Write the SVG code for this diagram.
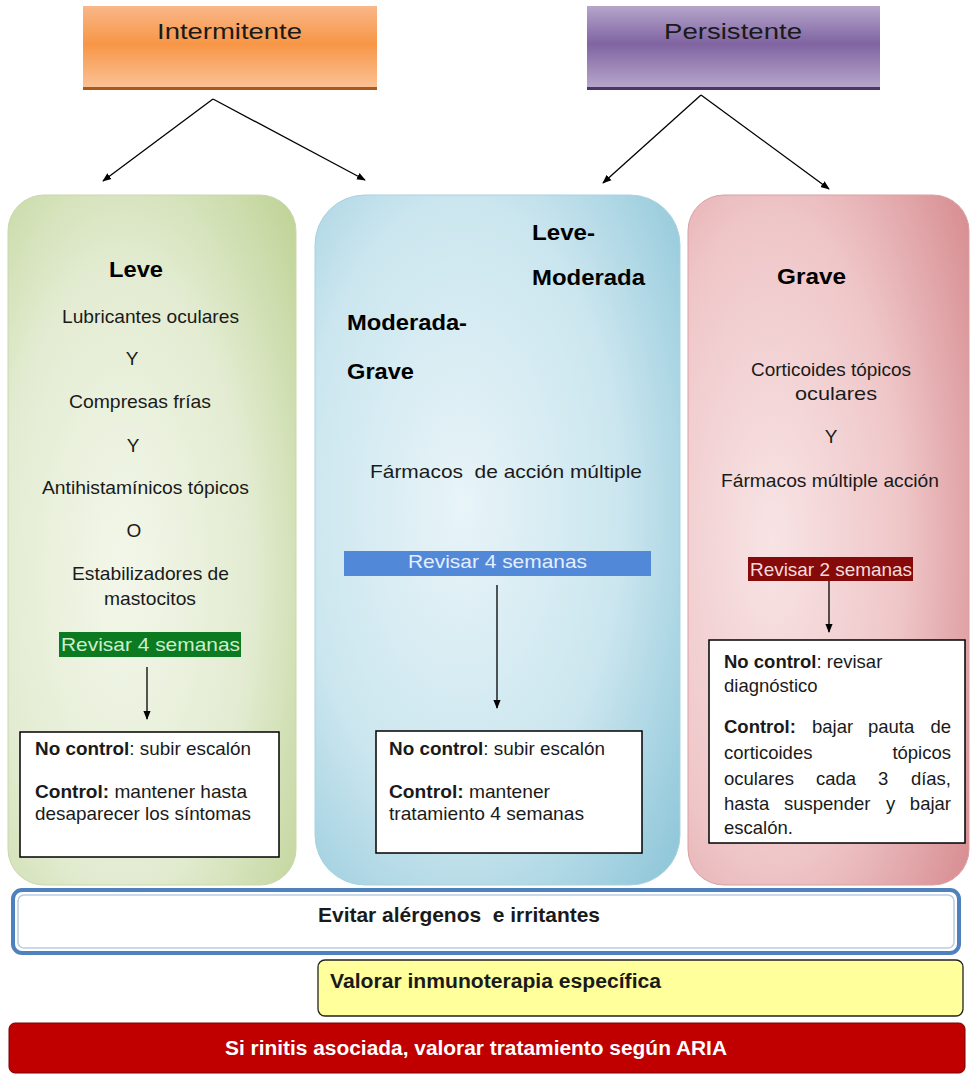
<svg xmlns="http://www.w3.org/2000/svg" width="973" height="1078" viewBox="0 0 973 1078">
<defs>
<linearGradient id="gOrange" x1="0" y1="0" x2="0" y2="1">
<stop offset="0" stop-color="#f9b789"/><stop offset="0.45" stop-color="#f79646"/><stop offset="1" stop-color="#fbc49a"/>
</linearGradient>
<linearGradient id="gPurple" x1="0" y1="0" x2="0" y2="1">
<stop offset="0" stop-color="#b5a5ca"/><stop offset="0.45" stop-color="#8064a2"/><stop offset="1" stop-color="#b9aacd"/>
</linearGradient>
<radialGradient id="gGreen" cx="0.4" cy="0.55" r="0.8">
<stop offset="0" stop-color="#f3f7ea"/><stop offset="0.55" stop-color="#e3ecd2"/><stop offset="1" stop-color="#bfd396"/>
</radialGradient>
<radialGradient id="gBlue" cx="0.4" cy="0.45" r="0.8">
<stop offset="0" stop-color="#e8f4f8"/><stop offset="0.55" stop-color="#cbe6ef"/><stop offset="1" stop-color="#8cc5d8"/>
</radialGradient>
<radialGradient id="gPink" cx="0.3" cy="0.5" r="0.85">
<stop offset="0" stop-color="#f8e4e5"/><stop offset="0.55" stop-color="#efc6c8"/><stop offset="1" stop-color="#d78d91"/>
</radialGradient>
<marker id="ah" viewBox="0 0 10 10" refX="9" refY="5" markerWidth="9" markerHeight="9" orient="auto" markerUnits="userSpaceOnUse">
<path d="M0,1 L10,5 L0,9 z" fill="#000"/>
</marker>
<style>
text{font-family:"Liberation Sans",Arial,sans-serif;fill:#1a1a1a;white-space:pre}
.t{font-size:19px}
.p{font-size:18.5px}
.ttl{font-size:22px}
.c{text-anchor:middle}
.e{text-anchor:end}
.h{font-size:22px;font-weight:bold;fill:#000}
.b{font-weight:bold}
.ln{stroke:#000;stroke-width:1.3;fill:none;marker-end:url(#ah)}
.box{fill:#fff;stroke:#000;stroke-width:1.5}
</style>
</defs>
<rect width="973" height="1078" fill="#fff"/>

<g id="intermitente">
<rect x="83" y="6" width="294" height="84" fill="url(#gOrange)"/>
<rect x="83" y="87" width="294" height="3" fill="#a95a1a"/>
<text x="157" y="39" class="ttl" textLength="145" lengthAdjust="spacingAndGlyphs">Intermitente</text>
</g>

<g id="persistente">
<rect x="587" y="6" width="293" height="84" fill="url(#gPurple)"/>
<rect x="587" y="87" width="293" height="3" fill="#4a3766"/>
<text x="664" y="39" class="ttl" textLength="138" lengthAdjust="spacingAndGlyphs">Persistente</text>
</g>

<g id="col-leve">
<rect x="8" y="195" width="288" height="690" rx="36" fill="url(#gGreen)" stroke="#c9d7ad" stroke-width="1"/>
<text x="109" y="277" class="h" textLength="54" lengthAdjust="spacingAndGlyphs">Leve</text>
<text x="62" y="323" class="t" textLength="177" lengthAdjust="spacingAndGlyphs">Lubricantes oculares</text>
<text x="132" y="365" class="t c">Y</text>
<text x="69" y="408" class="t" textLength="142" lengthAdjust="spacingAndGlyphs">Compresas frías</text>
<text x="133" y="452" class="t c">Y</text>
<text x="42" y="494" class="t" textLength="207" lengthAdjust="spacingAndGlyphs">Antihistamínicos tópicos</text>
<text x="134" y="537" class="t c">O</text>
<text x="72" y="580" class="t" textLength="157" lengthAdjust="spacingAndGlyphs">Estabilizadores de</text>
<text x="104" y="605" class="t" textLength="92" lengthAdjust="spacingAndGlyphs">mastocitos</text>
<rect x="59" y="632" width="182" height="25" fill="#0b7a20"/>
<text x="61" y="651" class="t" style="fill:#cdeecd" textLength="179" lengthAdjust="spacingAndGlyphs">Revisar 4 semanas</text>
<rect x="20" y="732" width="259" height="125" class="box"/>
<text x="35" y="755" class="t" textLength="216" lengthAdjust="spacingAndGlyphs"><tspan class="b">No control</tspan>: subir escalón</text>
<text x="35" y="798" class="t" textLength="212" lengthAdjust="spacingAndGlyphs"><tspan class="b">Control:</tspan> mantener hasta</text>
<text x="35" y="820" class="t" textLength="216" lengthAdjust="spacingAndGlyphs">desaparecer los síntomas</text>
</g>

<g id="col-moderada">
<rect x="315" y="195" width="365" height="690" rx="50" fill="url(#gBlue)" stroke="#a9d2e0" stroke-width="1"/>
<text x="532" y="240" class="h" textLength="63" lengthAdjust="spacingAndGlyphs">Leve-</text>
<text x="532" y="285" class="h" textLength="113" lengthAdjust="spacingAndGlyphs">Moderada</text>
<text x="347" y="330" class="h" textLength="120" lengthAdjust="spacingAndGlyphs">Moderada-</text>
<text x="347" y="379" class="h" textLength="67" lengthAdjust="spacingAndGlyphs">Grave</text>
<text x="370" y="478" class="t" textLength="272" lengthAdjust="spacingAndGlyphs">Fármacos  de acción múltiple</text>
<rect x="344" y="551" width="307" height="25" fill="#5188d8"/>
<text x="408" y="568" class="t" style="fill:#e6eeff" textLength="179" lengthAdjust="spacingAndGlyphs">Revisar 4 semanas</text>
<rect x="376" y="731" width="266" height="122" class="box"/>
<text x="389" y="755" class="t" textLength="216" lengthAdjust="spacingAndGlyphs"><tspan class="b">No control</tspan>: subir escalón</text>
<text x="389" y="798" class="t" textLength="161" lengthAdjust="spacingAndGlyphs"><tspan class="b">Control:</tspan> mantener</text>
<text x="389" y="820" class="t" textLength="195" lengthAdjust="spacingAndGlyphs">tratamiento 4 semanas</text>
</g>

<g id="col-grave">
<rect x="688" y="195" width="281" height="690" rx="36" fill="url(#gPink)" stroke="#d9a0a3" stroke-width="1"/>
<text x="777" y="284" class="h" textLength="69" lengthAdjust="spacingAndGlyphs">Grave</text>
<text x="751" y="376" class="t" textLength="160" lengthAdjust="spacingAndGlyphs">Corticoides tópicos</text>
<text x="795" y="400" class="t" textLength="82" lengthAdjust="spacingAndGlyphs">oculares</text>
<text x="831" y="443" class="t c">Y</text>
<text x="721" y="487" class="t" textLength="218" lengthAdjust="spacingAndGlyphs">Fármacos múltiple acción</text>
<rect x="748" y="557" width="165" height="24" fill="#870a0a"/>
<text x="750" y="576" class="t" style="fill:#f4dcdc" textLength="162" lengthAdjust="spacingAndGlyphs">Revisar 2 semanas</text>
<rect x="709" y="640" width="256" height="203" class="box"/>
<text x="724" y="668" class="p"><tspan class="b">No control</tspan>: revisar</text>
<text x="724" y="692" class="p">diagnóstico</text>
<text x="724" y="733" class="p b">Control:</text>
<text x="812" y="733" class="p">bajar</text>
<text x="868" y="733" class="p">pauta</text>
<text x="951" y="733" class="p e">de</text>
<text x="724" y="759" class="p">corticoides</text>
<text x="951" y="759" class="p e">tópicos</text>
<text x="724" y="785" class="p">oculares</text>
<text x="816" y="785" class="p">cada</text>
<text x="878" y="785" class="p">3</text>
<text x="951" y="785" class="p e">días,</text>
<text x="724" y="810" class="p">hasta</text>
<text x="784" y="810" class="p">suspender</text>
<text x="886" y="810" class="p">y</text>
<text x="951" y="810" class="p e">bajar</text>
<text x="724" y="834" class="p">escalón.</text>
</g>

<g id="evitar">
<rect x="13" y="890" width="946" height="63" rx="9" fill="#fff" stroke="#4f81bd" stroke-width="4"/>
<rect x="18" y="895" width="936" height="53" rx="6" fill="none" stroke="#b8cce4" stroke-width="1.5"/>
<text x="318" y="922" class="b" style="font-size:21px" textLength="282" lengthAdjust="spacingAndGlyphs">Evitar alérgenos  e irritantes</text>
</g>

<g id="inmunoterapia">
<rect x="318" y="960" width="645" height="56" rx="7" fill="#ffff9c" stroke="#222" stroke-width="1.3"/>
<text x="330" y="988" class="b" style="font-size:20px" textLength="331" lengthAdjust="spacingAndGlyphs">Valorar inmunoterapia específica</text>
</g>

<g id="aria">
<rect x="9" y="1023" width="956" height="50" rx="6" fill="#c00000" stroke="#7a0000" stroke-width="1"/>
<text x="225" y="1055" class="b" style="font-size:20px;fill:#fff" textLength="502" lengthAdjust="spacingAndGlyphs">Si rinitis asociada, valorar tratamiento según ARIA</text>
</g>

<g id="connectors">
<line x1="213" y1="99" x2="103" y2="181" class="ln"/>
<line x1="213" y1="99" x2="365" y2="180" class="ln"/>
<line x1="701" y1="95" x2="603" y2="183" class="ln"/>
<line x1="701" y1="95" x2="829" y2="189" class="ln"/>
<line x1="147" y1="667" x2="147" y2="719" class="ln"/>
<line x1="497" y1="585" x2="497" y2="708" class="ln"/>
<line x1="829" y1="581" x2="829" y2="632" class="ln"/>
</g>
</svg>
